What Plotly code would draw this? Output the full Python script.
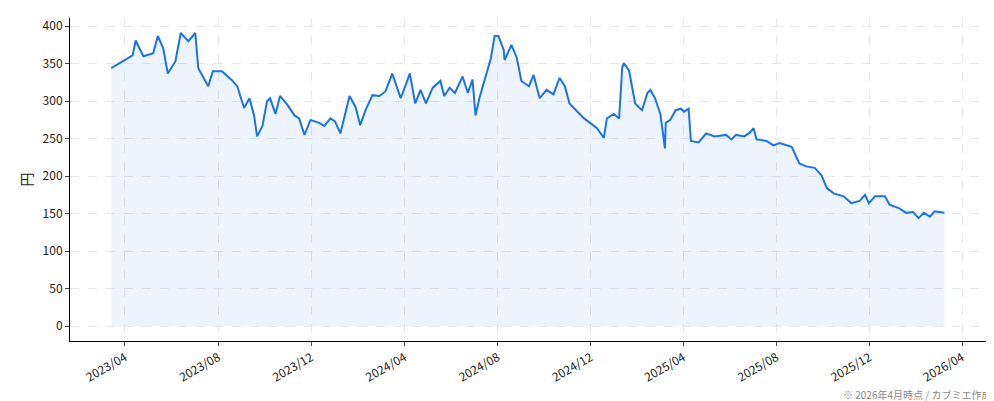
import plotly.graph_objects as go

dates = ["2023-03-14","2023-03-29","2023-04-11","2023-04-15","2023-04-25","2023-05-08","2023-05-14","2023-05-21","2023-05-27","2023-06-06",
"2023-06-13","2023-06-23","2023-07-02","2023-07-06","2023-07-12","2023-07-19","2023-07-25","2023-08-06","2023-08-19","2023-08-26",
"2023-09-04","2023-09-11","2023-09-17","2023-09-21","2023-09-28","2023-10-04","2023-10-08","2023-10-15","2023-10-21","2023-10-30",
"2023-11-09","2023-11-15","2023-11-22","2023-11-30","2023-12-11","2023-12-18","2023-12-26","2024-01-01","2024-01-08","2024-01-20",
"2024-01-28","2024-02-03","2024-02-10","2024-02-19","2024-02-28","2024-03-07","2024-03-16","2024-03-23","2024-03-27","2024-04-02",
"2024-04-08","2024-04-15","2024-04-22","2024-04-29","2024-05-08","2024-05-18","2024-05-23","2024-05-30","2024-06-06","2024-06-16",
"2024-06-23","2024-06-29","2024-07-03","2024-07-08","2024-07-16","2024-07-23","2024-07-28","2024-08-02","2024-08-09","2024-08-10",
"2024-08-19","2024-08-26","2024-09-01","2024-09-11","2024-09-17","2024-09-25","2024-10-04","2024-10-13","2024-10-21","2024-10-28",
"2024-11-03","2024-11-12","2024-11-22","2024-11-30","2024-12-09","2024-12-18","2024-12-22","2024-12-31","2025-01-07","2025-01-11",
"2025-01-13","2025-01-20","2025-01-28","2025-02-06","2025-02-13","2025-02-17","2025-02-23","2025-03-02","2025-03-08","2025-03-09",
"2025-03-15","2025-03-22","2025-03-29","2025-04-02","2025-04-08","2025-04-11","2025-04-21","2025-05-01","2025-05-12","2025-05-27",
"2025-06-03","2025-06-09","2025-06-20","2025-06-27","2025-07-02","2025-07-06","2025-07-19","2025-07-28","2025-08-05","2025-08-21",
"2025-08-31","2025-09-09","2025-09-20","2025-09-29","2025-10-06","2025-10-15","2025-10-28","2025-11-07","2025-11-18","2025-11-25",
"2025-11-30","2025-12-08","2025-12-21","2025-12-27","2026-01-09","2026-01-18","2026-01-27","2026-02-03","2026-02-10","2026-02-18",
"2026-02-24","2026-03-09"]
prices = [344,353,361,381,360,364,387,371,337,353,
391,380,391,344,333,320,340,340,328,320,
291,304,281,253,267,300,304,283,307,296,
281,277,255,275,271,267,277,273,257,307,
292,268,288,308,307,313,337,315,304,320,
337,297,315,297,318,327,307,318,311,333,
311,329,281,304,331,357,387,387,368,355,
375,358,327,320,335,304,315,309,331,320,
297,288,277,271,264,251,277,283,277,344,
351,341,297,288,311,315,304,283,237,271,
275,288,290,286,290,247,245,257,253,255,
249,255,253,258,264,249,247,241,244,239,
217,213,211,201,184,177,173,164,167,175,
164,173,173,162,157,151,152,144,151,146,
153,151]

tick_vals = ["2023-04-01","2023-08-01","2023-12-01","2024-04-01","2024-08-01","2024-12-01",
             "2025-04-01","2025-08-01","2025-12-01","2026-04-01"]
tick_text = ["2023/04","2023/08","2023/12","2024/04","2024/08","2024/12",
             "2025/04","2025/08","2025/12","2026/04"]
y_ticks = [0,50,100,150,200,250,300,350,400]

fig = go.Figure()
fig.add_trace(go.Scatter(x=dates, y=[0]*len(dates), mode="lines", line=dict(width=0),
                         showlegend=False, hoverinfo="skip"))
fig.add_trace(go.Scatter(x=dates, y=prices, mode="lines", fill="tonexty",
                         fillcolor="rgba(26,115,232,0.08)",
                         line=dict(color="#1a73e8", width=2), showlegend=False))

font = "Noto Sans CJK JP, DejaVu Sans, sans-serif"
fig.update_layout(
    width=994, height=401, margin=dict(l=62, r=14, t=10, b=68),
    plot_bgcolor="white", paper_bgcolor="white",
    font=dict(family=font, size=12, color="#222"),
    xaxis=dict(range=["2023-01-19","2026-05-05"], tickvals=tick_vals, ticktext=tick_text,
               tickangle=-30, showgrid=True, gridcolor="#e3e7ee", griddash="dash",
               showline=True, linecolor="black", ticks="outside", ticklen=4, zeroline=False,
               automargin=False),
    yaxis=dict(range=[-20, 411], tickvals=y_ticks, showgrid=True, gridcolor="#e3e7ee",
               griddash="dash", showline=True, linecolor="black", ticks="outside", ticklen=4,
               zeroline=False, automargin=False, title=dict(text="円", standoff=6)),
)
fig.add_annotation(text="※ 2026年4月時点 / カブミエ作成", xref="paper", yref="paper",
                   x=1.005, y=-0.135, xanchor="right", yanchor="top", showarrow=False,
                   font=dict(size=10, color="#888"))
fig.write_html("out.html")
